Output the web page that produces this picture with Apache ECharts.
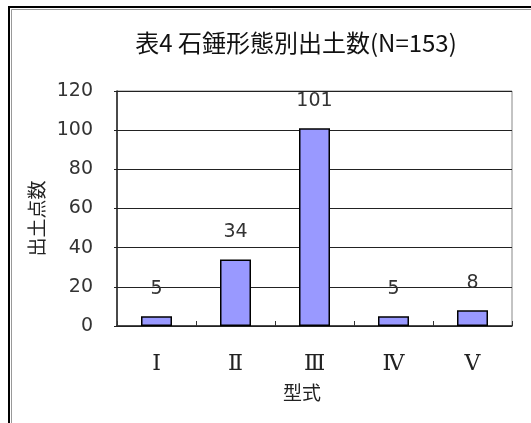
<!DOCTYPE html>
<html>
<head>
<meta charset="utf-8">
<script src="https://cdn.jsdelivr.net/npm/echarts@6/dist/echarts.min.js"></script>
<style>
html,body{margin:0;padding:0;background:#fff;}
#c{width:531px;height:423px;}
</style>
</head>
<body>
<div id="c"></div>
<script>
const titleText = '表4 石錘形態別出土数(N=153)';
const categories = ['Ⅰ', 'Ⅱ', 'Ⅲ', 'Ⅳ', 'Ⅴ'];
const values = [5, 34, 101, 5, 8];
const yTicks = { min: 0, max: 120, interval: 20 };
const xName = '型式';
const yName = '出土点数';

const chart = echarts.init(document.getElementById('c'));
const jp = '"Noto Sans CJK JP", "Noto Sans", sans-serif';
const num = '"DejaVu Sans", "Liberation Sans", sans-serif';
chart.setOption({
  animation: false,
  backgroundColor: '#fff',
  title: {
    text: titleText,
    left: 291, top: 26, textAlign: 'center',
    textStyle: { fontFamily: jp, fontSize: 24, fontWeight: 'normal', color: '#111' }
  },
  graphic: [
    { type: 'line', shape: { x1: 9, y1: 7, x2: 531, y2: 7 }, style: { stroke: '#000', lineWidth: 2 } },
    { type: 'line', shape: { x1: 9, y1: 6, x2: 9, y2: 423 }, style: { stroke: '#000', lineWidth: 2 } },
    { type: 'line', shape: { x1: 11.5, y1: 9.5, x2: 531, y2: 9.5 }, style: { stroke: '#999', lineWidth: 1 } },
    { type: 'line', shape: { x1: 11.5, y1: 9.5, x2: 11.5, y2: 423 }, style: { stroke: '#999', lineWidth: 1 } }
  ],
  grid: {
    left: 117, right: 19, top: 91, bottom: 97,
    show: true, borderColor: '#888', borderWidth: 1, backgroundColor: 'transparent'
  },
  xAxis: {
    type: 'category',
    data: categories,
    name: xName,
    nameLocation: 'middle',
    nameGap: 57,
    nameTextStyle: { fontFamily: jp, fontSize: 19, color: '#222', padding: [0, 25, 0, 0] },
    axisLine: { lineStyle: { color: '#222', width: 1.5 } },
    axisTick: { show: true, inside: true, length: 5, lineStyle: { color: '#333' } },
    axisLabel: { margin: 27, fontFamily: '"DejaVu Serif", "Liberation Serif", serif', fontSize: 22, color: '#222', fontWeight: 300 }
  },
  yAxis: {
    type: 'value',
    min: yTicks.min, max: yTicks.max, interval: yTicks.interval,
    name: yName,
    nameLocation: 'middle',
    nameRotate: 90,
    nameGap: 61,
    nameTextStyle: { fontFamily: jp, fontSize: 19, color: '#222', align: 'center', verticalAlign: 'middle', padding: [0, 20, 0, 0] },
    axisLine: { show: true, lineStyle: { color: '#222', width: 1.5 } },
    axisTick: { show: true, length: 3, lineStyle: { color: '#222' } },
    axisLabel: { margin: 24, fontFamily: num, fontSize: 19, color: '#333', fontWeight: 'normal' },
    splitLine: { lineStyle: { color: '#222', width: 1 } }
  },
  series: [{
    type: 'bar',
    data: values,
    barWidth: 31,
    itemStyle: { color: '#9999FF', borderColor: '#000', borderWidth: 1.5 },
    label: {
      show: true, position: 'top', distance: 18,
      fontFamily: num, fontSize: 19, color: '#333', fontWeight: 'normal'
    }
  }]
});
</script>
</body>
</html>
